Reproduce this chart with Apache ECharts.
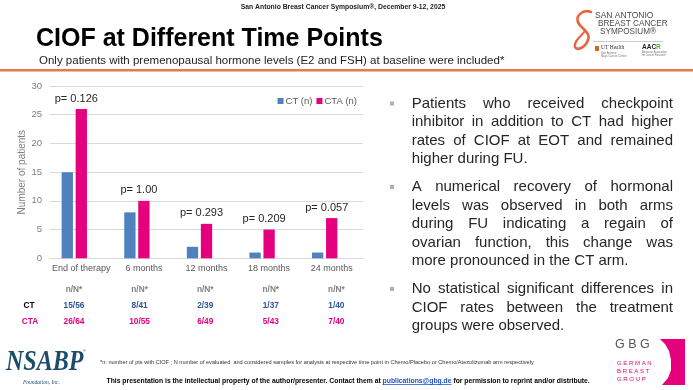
<!DOCTYPE html>
<html>
<head>
<meta charset="utf-8">
<script src="https://cdn.jsdelivr.net/npm/echarts@6/dist/echarts.min.js"></script>
<style>
html,body{margin:0;padding:0;background:#fff;}
#chart{width:693px;height:390px;}
</style>
</head>
<body>
<div id="chart"></div>
<script>
// ---- data ----
var categories = ['End of therapy', '6 months', '12 months', '18 months', '24 months'];
var ctCounts = [15, 8, 2, 1, 1];
var ctTotals = [56, 41, 39, 37, 40];
var ctaCounts = [26, 10, 6, 5, 7];
var ctaTotals = [64, 55, 49, 43, 40];
var pLabels = ['p= 0.126', 'p= 1.00', 'p= 0.293', 'p= 0.209', 'p= 0.057'];
var yTicks = [0, 5, 10, 15, 20, 25, 30];
var seriesNames = ['CT (n)', 'CTA (n)'];
var tableHeader = 'n/N*';
var rowLabels = ['CT', 'CTA'];
var bulletParagraphs = [
  ['Patients who received checkpoint', 'inhibitor in addition to CT had higher', 'rates of CIOF at EOT and remained', 'higher during FU.'],
  ['A numerical recovery of hormonal', 'levels was observed in both arms', 'during FU indicating a regain of', 'ovarian function, this change was', 'more pronounced in the CT arm.'],
  ['No statistical significant differences in', 'CIOF rates between the treatment', 'groups were observed.']
];
var headerText = 'San Antonio Breast Cancer Symposium®, December 9-12, 2025';
var titleText = 'CIOF at Different Time Points';
var subtitleText = 'Only patients with premenopausal hormone levels (E2 and FSH) at baseline were included*';
var footnoteText = '*n: number of pts with CIOF ; N number of evaluated  and considered samples for analysis at respective time point in Chemo/Placebo or Chemo/Atezolizumab arm respectively';

// ---- styles ----
var FONT = 'Arial, "Liberation Sans", sans-serif';
var CT_COLOR = '#4F81BD';
var CTA_COLOR = '#E5007E';
var ORANGE = '#E9784F';

var chart = echarts.init(document.getElementById('chart'), null, {renderer: 'canvas', width: 693, height: 390});

function txt(text, x, y, o) {
  o = o || {};
  return {
    type: 'text', silent: true, z: 10,
    x: 0, y: 0,
    scaleX: o.scaleX || 1, scaleY: o.scaleY || 1,
    originX: x, originY: y,
    style: {
      text: text, x: x, y: y,
      fill: o.fill || '#000',
      fontSize: o.fontSize || 10,
      fontFamily: o.fontFamily || FONT,
      fontWeight: o.fontWeight || 'normal',
      fontStyle: o.fontStyle || 'normal',
      textAlign: o.align || 'left', align: o.align || 'left',
      textVerticalAlign: 'middle', verticalAlign: 'middle'
    }
  };
}
function curve(x1, y1, cx1, cy1, cx2, cy2, x2, y2, color, w) {
  return {type: 'bezierCurve', silent: true, shape: {x1: x1, y1: y1, cpx1: cx1, cpy1: cy1, cpx2: cx2, cpy2: cy2, x2: x2, y2: y2},
    style: {stroke: color, lineWidth: w, fill: null, lineCap: 'round'}};
}

var graphics = [];
// header
graphics.push(txt(headerText, 343, 7, {fontSize: 6.8, fontWeight: 'bold', align: 'center', fill: '#222'}));
graphics.push(txt(titleText, 36, 39, {fontSize: 25, fontWeight: 'bold', fill: '#000'}));
graphics.push(txt(subtitleText, 39, 61, {fontSize: 11.5, fill: '#222'}));
graphics.push({type: 'rect', silent: true, shape: {x: 0, y: 69, width: 693, height: 2.5}, style: {fill: ORANGE}});

// SABCS logo
graphics.push(curve(591, 12, 583, 9, 574, 16, 579, 24, '#E8663D', 2.6));
graphics.push(curve(579, 24, 583, 30, 591, 33, 588, 40, '#E8663D', 2.6));
graphics.push(curve(588, 40, 585, 48, 577, 51, 575, 47, '#E8663D', 2.6));
graphics.push(curve(575, 47, 573, 42, 581, 36, 585, 31, '#E8663D', 2.0));
graphics.push(txt('SAN ANTONIO', 595, 16, {fontSize: 8.5, fill: '#4a4a4a'}));
graphics.push(txt('BREAST CANCER', 598, 24, {fontSize: 8.2, fill: '#4a4a4a'}));
graphics.push(txt('SYMPOSIUM®', 600, 32, {fontSize: 8.2, fill: '#4a4a4a'}));
graphics.push({type: 'rect', silent: true, shape: {x: 593, y: 41, width: 70, height: 0.6}, style: {fill: '#999'}});
graphics.push({type: 'rect', silent: true, shape: {x: 595, y: 46, width: 4, height: 5}, style: {fill: '#D2691E'}});
graphics.push(txt('UT Health', 601, 48, {fontSize: 5.5, fontFamily: '"Liberation Serif", serif', fill: '#333'}));
graphics.push(txt('San Antonio', 601, 53, {fontSize: 2.8, fill: '#777'}));
graphics.push(txt('Mays Cancer Center', 601, 56, {fontSize: 2.8, fill: '#777'}));
graphics.push(txt('AAC', 642, 47, {fontSize: 6.5, fontWeight: 'bold', fill: '#222'}));
graphics.push(txt('R', 656, 47, {fontSize: 6.5, fontWeight: 'bold', fill: '#5BAE3A'}));
graphics.push(txt('American Association', 642, 52, {fontSize: 2.6, fill: '#777'}));
graphics.push(txt('for Cancer Research', 642, 55, {fontSize: 2.6, fill: '#777'}));

// bullets with justified lines
var measureCtx = document.createElement('canvas').getContext('2d');
var BULLET_FONT_SIZE = 15;
measureCtx.font = BULLET_FONT_SIZE + 'px ' + FONT;
var textLeft = 411.7, textRight = 673;
var lineY = 103.5, lineH = 18.6, paraGap = 9;
bulletParagraphs.forEach(function (para) {
  graphics.push({type: 'rect', silent: true, shape: {x: 390, y: lineY - 2, width: 4, height: 4}, style: {fill: '#ADADAD'}});
  para.forEach(function (line, li) {
    var last = li === para.length - 1;
    if (last) {
      graphics.push(txt(line, textLeft, lineY, {fontSize: BULLET_FONT_SIZE, fill: '#262626'}));
    } else {
      var words = line.split(' ');
      var widths = words.map(function (w) { return measureCtx.measureText(w).width; });
      var total = widths.reduce(function (a, b) { return a + b; }, 0);
      var space = (textRight - textLeft - total) / (words.length - 1);
      var x = textLeft;
      words.forEach(function (w, wi) {
        graphics.push(txt(w, x, lineY, {fontSize: BULLET_FONT_SIZE, fill: '#262626'}));
        x += widths[wi] + space;
      });
    }
    lineY += lineH;
  });
  lineY += paraGap;
});

// footer
graphics.push(txt(footnoteText, 100, 362.5, {fontSize: 5.6, fill: '#333'}));
var footParts = [
  {t: 'This presentation is the intellectual property of the author/presenter. Contact them at ', c: '#000', u: false},
  {t: 'publications@gbg.de', c: '#1F4FD0', u: true},
  {t: ' for permission to reprint and/or distribute.', c: '#000', u: false}
];
measureCtx.font = 'bold 6.8px ' + FONT;
var fx = 106.5;
footParts.forEach(function (p) {
  graphics.push(txt(p.t, fx, 381, {fontSize: 6.8, fontWeight: 'bold', fill: p.c}));
  var w = measureCtx.measureText(p.t).width;
  if (p.u) graphics.push({type: 'rect', silent: true, shape: {x: fx, y: 384.3, width: w, height: 0.6}, style: {fill: p.c}});
  fx += w;
});

// NSABP logo
graphics.push(txt('NSABP', 6, 362, {fontSize: 24, fontWeight: 'bold', fontStyle: 'italic', fontFamily: '"Liberation Serif", "DejaVu Serif", serif', fill: '#1C4E6B', scaleY: 1.25}));
graphics.push(txt('®', 83, 351, {fontSize: 4, fill: '#1C4E6B'}));
graphics.push(txt('Foundation, Inc.', 23, 383, {fontSize: 5.5, fontStyle: 'italic', fontFamily: '"Liberation Serif", serif', fill: '#1C4E6B'}));

// GBG logo
graphics.push(txt('G B G', 615, 345, {fontSize: 12.5, fill: '#555'}));
graphics.push(txt('G E R M A N', 617, 363, {fontSize: 6, fill: CTA_COLOR}));
graphics.push(txt('B R E A S T', 617, 371, {fontSize: 6, fill: CTA_COLOR}));
graphics.push(txt('G R O U P', 617, 379.5, {fontSize: 6, fill: CTA_COLOR}));
graphics.push({type: 'polygon', silent: true, shape: {points: [[660, 339], [685, 339], [685, 385], [662, 385], [668, 378], [671, 370], [671, 360], [669, 351], [665, 344]]}, style: {fill: CTA_COLOR}});

var option = {
  backgroundColor: '#fff',
  animation: false,
  textStyle: {fontFamily: FONT},
  legend: {
    data: seriesNames,
    right: 336, top: 96, padding: 0,
    itemWidth: 6, itemHeight: 6, itemGap: 4, icon: 'rect',
    textStyle: {fontSize: 9.5, color: '#595959', padding: [0, 0, 0, -3]}
  },
  grid: {left: 50, right: 330, top: 86, bottom: 131.7, containLabel: false},
  xAxis: {
    type: 'category', data: categories,
    axisLine: {lineStyle: {color: '#D9D9D9'}},
    axisTick: {show: false},
    axisLabel: {fontSize: 9, color: '#595959', margin: 6, interval: 0}
  },
  yAxis: {
    type: 'value', min: yTicks[0], max: yTicks[yTicks.length - 1], interval: yTicks[1] - yTicks[0],
    name: 'Number of patients', nameLocation: 'middle', nameGap: 18,
    nameTextStyle: {fontSize: 10, color: '#7F7F7F'},
    axisLine: {show: false}, axisTick: {show: false},
    axisLabel: {fontSize: 9.5, color: '#7F7F7F', margin: 8},
    splitLine: {lineStyle: {color: '#D9D9D9', width: 1}}
  },
  series: [
    {name: seriesNames[0], type: 'bar', data: ctCounts, barWidth: 11.3, barGap: '24%', itemStyle: {color: CT_COLOR}},
    {name: seriesNames[1], type: 'bar', data: ctaCounts, barWidth: 11.3, barGap: '24%', itemStyle: {color: CTA_COLOR},
      label: {show: true, position: 'top', distance: 5, offset: [-5, 0], fontSize: 11, color: '#262626',
        formatter: function (p) { return pLabels[p.dataIndex]; }}},
    {name: 'spacer', type: 'bar', data: ctCounts.map(function () { return null; }), barWidth: 11.3, barGap: '24%', itemStyle: {color: 'transparent'}}
  ],
  graphic: {elements: graphics}
};
chart.setOption(option);

// table below the chart (independent PowerPoint-style table)
var tableX0 = 74, tableStep = 65.6;
var tableEls = [];
tableEls.push(txt(rowLabels[0], 29, 305.7, {fontSize: 8.3, fontWeight: 'bold', align: 'center', fill: '#000'}));
tableEls.push(txt(rowLabels[1], 30, 321.7, {fontSize: 8.3, fontWeight: 'bold', align: 'center', fill: CTA_COLOR}));
categories.forEach(function (c, i) {
  var cx = tableX0 + i * tableStep;
  tableEls.push(txt(tableHeader, cx, 290, {fontSize: 8.3, fontWeight: 'bold', align: 'center', fill: '#7F7F7F'}));
  tableEls.push(txt(ctCounts[i] + '/' + ctTotals[i], cx, 305.7, {fontSize: 8.3, fontWeight: 'bold', align: 'center', fill: '#2F5597'}));
  tableEls.push(txt(ctaCounts[i] + '/' + ctaTotals[i], cx, 321.7, {fontSize: 8.3, fontWeight: 'bold', align: 'center', fill: CTA_COLOR}));
});
chart.setOption({graphic: {elements: graphics.concat(tableEls)}});
</script>
</body>
</html>
